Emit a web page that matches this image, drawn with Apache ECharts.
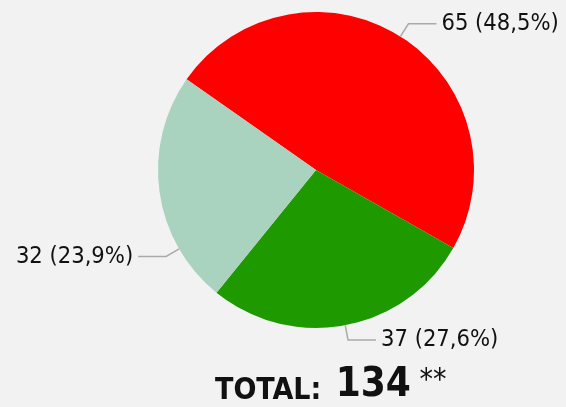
<!DOCTYPE html>
<html>
<head>
<meta charset="utf-8">
<script src="https://cdn.jsdelivr.net/npm/echarts@6/dist/echarts.min.js"></script>
<style>
  html, body { margin: 0; padding: 0; background: #f2f2f2; }
  #chart { width: 566px; height: 407px; }
</style>
</head>
<body>
<div id="chart"></div>
<script>
// values
const categories = ['A', 'B', 'C'];
const values = [65, 37, 32];
const colors = ['#ff0000', '#1f9900', '#a9d3be'];
const total = 134;

const font = '"DejaVu Sans Condensed", "Liberation Sans Narrow", sans-serif';

const fmt = p => p.value + ' (' + (p.value / total * 100).toFixed(1).replace('.', ',') + '%)';

const labelBase = {
  fontFamily: font,
  fontSize: 23.5,
  color: '#111',
  overflow: 'none',
  formatter: fmt
};
const lineBase = {
  show: true,
  length: 15,
  length2: 28,
  lineStyle: { color: '#aaaaaa', width: 1.5 }
};

// small slice label is drawn lower in the original, so it comes from a
// transparent copy of the pie turned a bit further round
const labelledInMain = [true, true, false];

const mainData = categories.map((c, i) => ({
  name: c,
  value: values[i],
  itemStyle: { color: colors[i] },
  label: { show: labelledInMain[i] },
  labelLine: { show: labelledInMain[i] }
}));

const ghostData = categories.map((c, i) => ({
  name: c,
  value: values[i],
  label: { show: !labelledInMain[i] },
  labelLine: { show: !labelledInMain[i] }
}));

const chart = echarts.init(document.getElementById('chart'));
chart.setOption({
  backgroundColor: '#f2f2f2',
  animation: false,
  title: {
    text: '{a|TOTAL: }{b|134}{c| **}',
    left: 210,
    top: 361,
    textStyle: {
      rich: {
        a: { fontFamily: font, fontSize: 30, fontWeight: 'bold', color: '#111', verticalAlign: 'bottom' },
        b: { fontFamily: font, fontSize: 40, fontWeight: 'bold', color: '#111', verticalAlign: 'bottom', padding: [0, 0, 0, 5] },
        c: { fontFamily: font, fontSize: 30, fontWeight: 'normal', color: '#111', verticalAlign: 'top' }
      }
    }
  },
  series: [{
    type: 'pie',
    center: [316, 170],
    radius: 158,
    startAngle: 145,
    clockwise: true,
    data: mainData,
    label: labelBase,
    labelLine: lineBase
  }, {
    type: 'pie',
    silent: true,
    center: [316, 170],
    radius: 158,
    startAngle: 167,
    clockwise: true,
    data: ghostData,
    itemStyle: { color: 'rgba(0,0,0,0)' },
    label: labelBase,
    labelLine: lineBase
  }]
});
</script>
</body>
</html>
